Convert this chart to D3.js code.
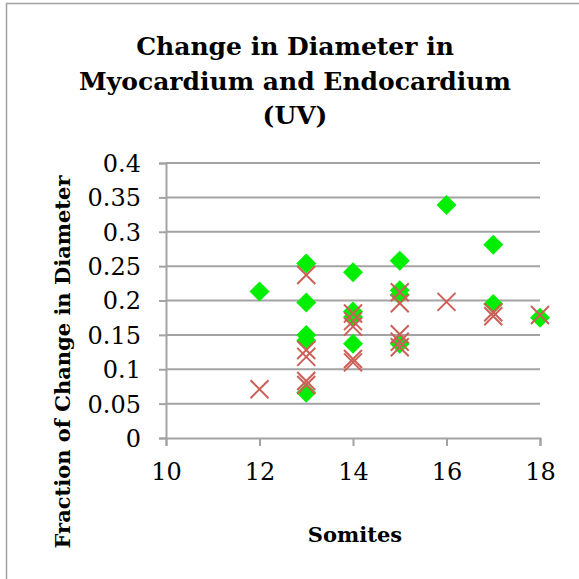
<!DOCTYPE html>
<html>
<head>
    <meta charset="UTF-8">
    <title>Change in Diameter</title>
    <style>
        body { margin: 0; background: #fff; }
        .tick text { font: 24px "DejaVu Serif", serif; fill: #000; }
        .title { font: bold 25px "DejaVu Serif", serif; text-anchor: middle; }
        .axis-title { font: bold 21px "DejaVu Serif", serif; text-anchor: middle; }
    </style>
    <script src="https://d3js.org/d3.v7.min.js"></script>
</head>
<body>
<div id="chart"></div>
<script>
    // Myocardium (green diamonds)
    const myoSomites = [12, 13, 13, 13, 13, 13, 14, 14, 14, 14, 15, 15, 15, 15, 16, 17, 17, 18];
    const myoFraction = [0.213, 0.254, 0.197, 0.150, 0.142, 0.066, 0.241, 0.184, 0.176, 0.137, 0.258, 0.215, 0.208, 0.137, 0.339, 0.281, 0.195, 0.175];
    // Endocardium (red crosses)
    const endoSomites = [12, 13, 13, 13, 13, 13, 14, 14, 14, 14, 14, 15, 15, 15, 15, 15, 16, 17, 17, 18];
    const endoFraction = [0.071, 0.237, 0.128, 0.118, 0.083, 0.077, 0.181, 0.170, 0.162, 0.115, 0.110, 0.212, 0.196, 0.151, 0.140, 0.132, 0.198, 0.183, 0.177, 0.179];

    const xTicks = [10, 12, 14, 16, 18];
    const yTicks = [0, 0.05, 0.1, 0.15, 0.2, 0.25, 0.3, 0.35, 0.4];
    const titleLines = ["Change in Diameter in", "Myocardium and Endocardium", "(UV)"];

    const W = 579, H = 579;
    const margin = {top: 163, right: 39, bottom: 141, left: 166};
    const width = W - margin.left - margin.right;
    const height = H - margin.top - margin.bottom;

    const svg = d3.select("#chart").append("svg")
        .attr("width", W)
        .attr("height", H);

    // chart frame (only left and top edges visible in crop)
    svg.append("path")
        .attr("d", `M6.5,${H} V3.5 H${W}`)
        .attr("fill", "none")
        .attr("stroke", "#a0a0a0")
        .attr("stroke-width", 1.5);

    const g = svg.append("g")
        .attr("transform", `translate(${margin.left},${margin.top})`);

    const x = d3.scaleLinear().domain([10, 18]).range([0, width]);
    const y = d3.scaleLinear().domain([0, 0.4]).range([height, 0]);

    // gridlines
    g.selectAll(".grid")
        .data(yTicks.slice(1))
        .join("line")
            .attr("class", "grid")
            .attr("x1", 0).attr("x2", width)
            .attr("y1", d => y(d)).attr("y2", d => y(d))
            .attr("stroke", "#a3a3a3")
            .attr("stroke-width", 2);

    // Y axis
    const yAxis = g.append("g")
        .call(d3.axisLeft(y).tickValues(yTicks).tickFormat(d => d3.format("")(+d.toFixed(2))).tickSize(7).tickPadding(18));
    // X axis
    const xAxis = g.append("g")
        .attr("transform", `translate(0,${height})`)
        .call(d3.axisBottom(x).tickValues(xTicks).tickSize(8).tickPadding(17));

    [xAxis, yAxis].forEach(a => {
        a.select(".domain").attr("stroke", "#a3a3a3").attr("stroke-width", 2);
        a.selectAll(".tick line").attr("stroke", "#a3a3a3").attr("stroke-width", 2);
    });
    xAxis.selectAll(".tick text").attr("dy", "0.71em");
    yAxis.selectAll(".tick text").attr("dy", "0.35em");

    // markers
    const myo = myoSomites.map((s, i) => ({s, v: myoFraction[i]}));
    const endo = endoSomites.map((s, i) => ({s, v: endoFraction[i]}));

    g.selectAll(".myo")
        .data(myo)
        .join("path")
            .attr("class", "myo")
            .attr("d", "M0,-10 L10,0 L0,10 L-10,0 Z")
            .attr("transform", d => `translate(${x(d.s)},${y(d.v)})`)
            .attr("fill", "#00ee00");

    g.selectAll(".endo")
        .data(endo)
        .join("path")
            .attr("class", "endo")
            .attr("d", "M-9,-9 L9,9 M-9,9 L9,-9")
            .attr("transform", d => `translate(${x(d.s)},${y(d.v)})`)
            .attr("fill", "none")
            .attr("stroke", "#cc6058")
            .attr("stroke-width", 2);

    // Title
    svg.append("text")
        .attr("class", "title")
        .selectAll("tspan")
        .data(titleLines)
        .join("tspan")
            .attr("x", 295)
            .attr("y", (d, i) => 55 + i * 34.5)
            .text(d => d);

    // axis titles
    svg.append("text")
        .attr("class", "axis-title")
        .attr("x", 355)
        .attr("y", 542)
        .text("Somites");

    svg.append("text")
        .attr("class", "axis-title")
        .attr("transform", "translate(70,362) rotate(-90)")
        .text("Fraction of Change in Diameter");
</script>
</body>
</html>
